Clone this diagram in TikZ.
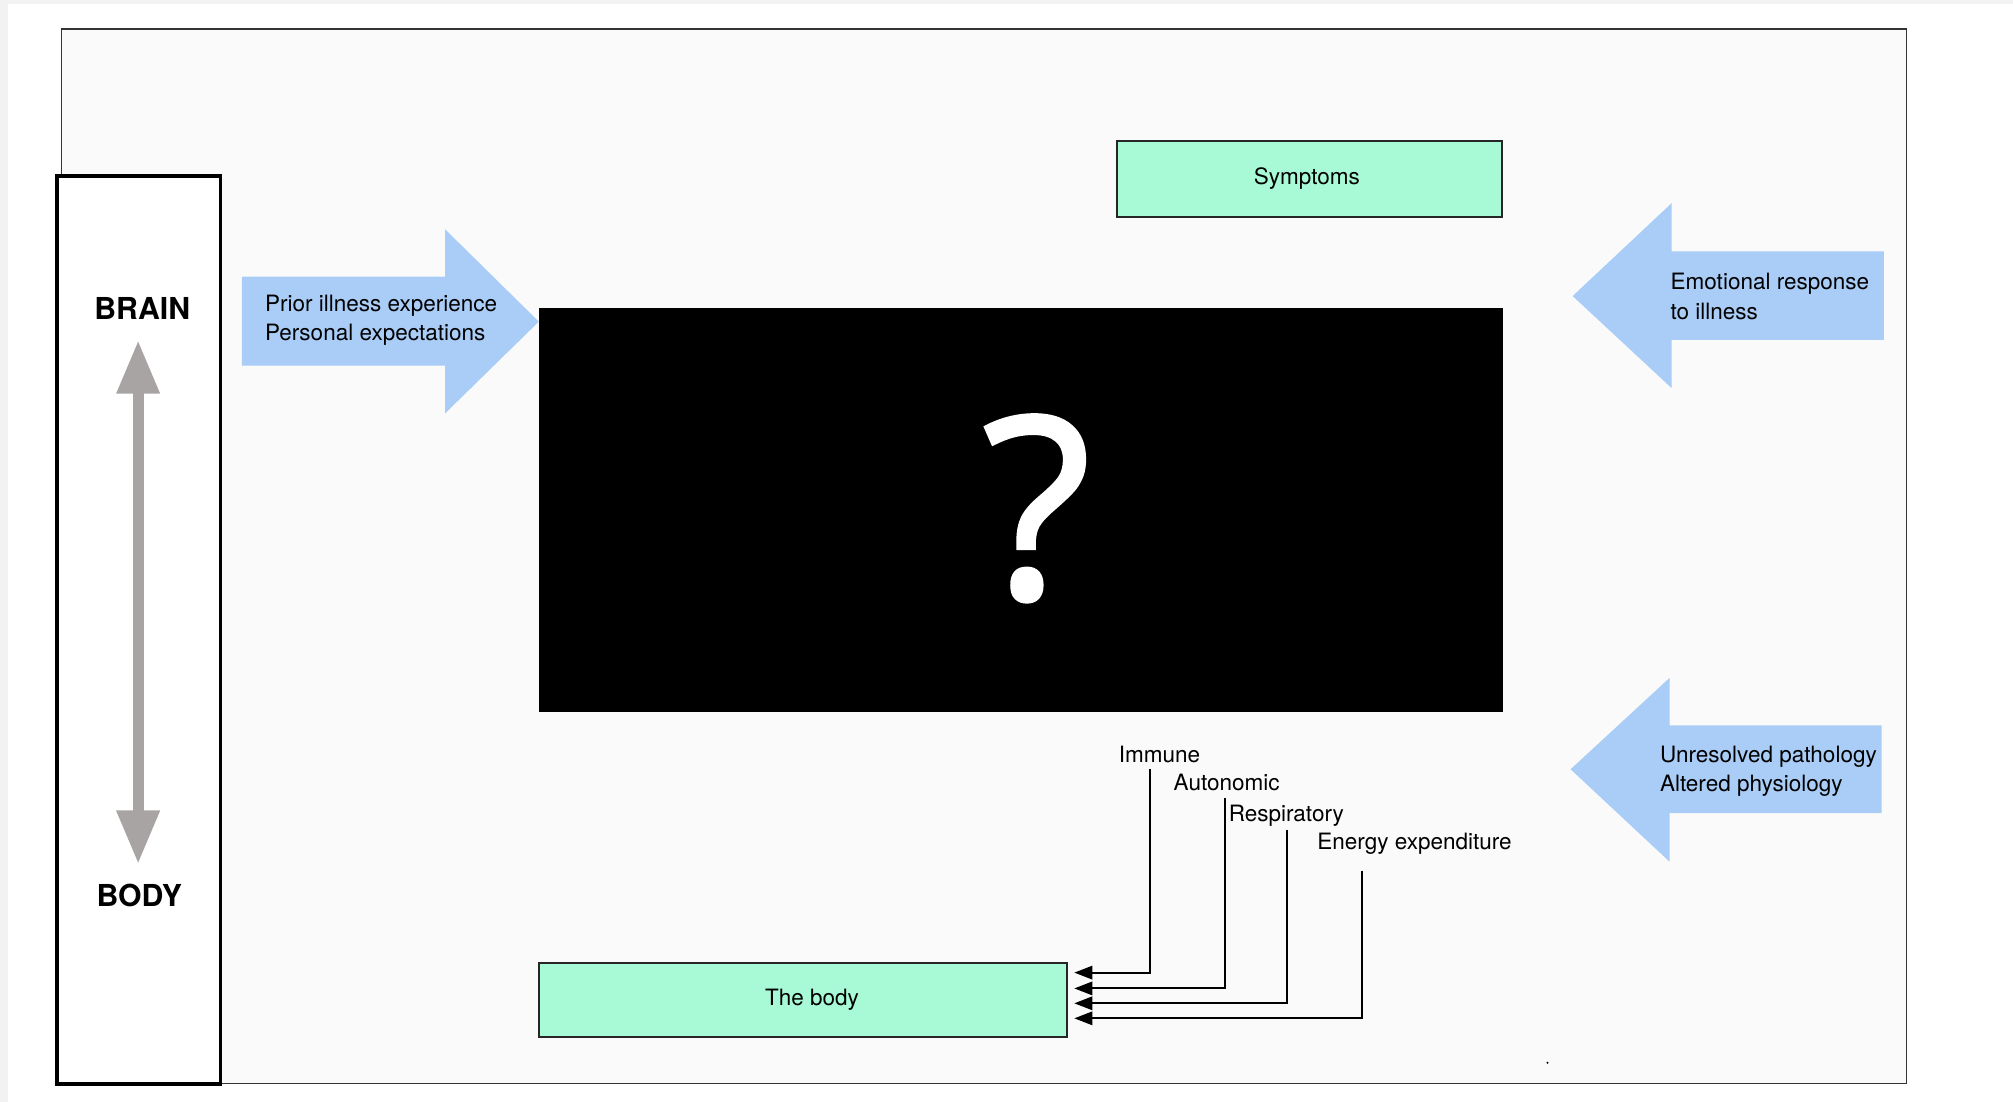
\documentclass[tikz,border=0pt]{standalone}
\usepackage{fontspec}
\setmainfont{TeX Gyre Heros}
\newfontfamily\qfont{Open Sans}[FakeBold=1.4]
\usetikzlibrary{arrows.meta,calc}

\definecolor{pageedge}{HTML}{F2F2F2}
\definecolor{panel}{HTML}{FAFAFA}
\definecolor{mint}{HTML}{A8FAD7}
\definecolor{skyblue}{HTML}{A9CDF7}
\definecolor{axisgray}{HTML}{A8A4A3}

\begin{document}
\begin{tikzpicture}[x=0.012838cm, y=-0.012838cm,
  smalltxt/.style={font=\fontsize{6.4}{8}\selectfont, inner sep=0pt, anchor=base west},
  bigtxt/.style={font=\fontsize{8.6}{10}\selectfont\bfseries, inner sep=0pt, anchor=base},
  mintbox/.style={draw=black!85, line width=0.55pt, fill=mint, inner sep=0pt,
                  font=\fontsize{6.4}{8}\selectfont},
  bluearrow/.style={fill=skyblue},
  conn/.style={line width=0.55pt, -{Triangle[length=0.18cm,width=0.134cm]}}
]
% page and panel
\fill[pageedge] (0,0) rectangle (1568,858);
\fill[white] (6.3,3.1) rectangle (1568,858);
\draw[fill=panel, draw=black!80, line width=0.45pt] (48,22.6) rectangle (1485,843.8);

% brain--body column
\node[draw=black, fill=white, line width=1pt, minimum width=1.633cm, minimum height=9.074cm,
      inner sep=0pt] (column) at (108.2,490.7) {};
\node[bigtxt] (brainlbl) at (110.8,248.5) {BRAIN};
\node[bigtxt] (bodylbl) at (108.5,706.2) {BODY};
\draw[axisgray, line width=0.112cm,
      {Triangle[length=0.535cm,width=0.406cm]}-{Triangle[length=0.535cm,width=0.406cm]}]
  ($(brainlbl.base)+(-3.2,16.5)$) -- ($(bodylbl.base)+(-0.9,-33.2)$);

% central unknown
\node[fill=black, minimum width=9.639cm, minimum height=4.039cm, inner sep=0pt]
  (unknown) at (795.1,397) {};
\node[text=white, font=\qfont\fontsize{72}{80}\selectfont, inner sep=0pt, anchor=base]
  (qmark) at (807.5,466) {?};

% green boxes
\node[mintbox, minimum width=3.850cm, minimum height=0.757cm] (symptoms) at (1020.25,139.3)
  {Symptoms\hspace*{0.06cm}};
\node[mintbox, minimum width=5.285cm, minimum height=0.747cm] (thebody) at (625.55,778.9)
  {\hspace*{0.18cm}The body};

% incoming influences
\fill[bluearrow] (188.5,215.5) -- (346.7,215.5) -- (346.7,178.6) -- (419.7,250.5)
  -- (346.7,322) -- (346.7,284.8) -- (188.5,284.8) -- cycle;
\node[smalltxt] (prior1) at (205.9,242.8) {Prior illness experience};
\node[smalltxt] (prior2) at (205.9,265.4) {Personal expectations};

\fill[bluearrow] (1467.5,195.8) -- (1302,195.8) -- (1302,158.3) -- (1225,230.6)
  -- (1302,302.2) -- (1302,264.7) -- (1467.5,264.7) -- cycle;
\node[smalltxt] (emo1) at (1300.8,225.4) {Emotional response};
\node[smalltxt] (emo2) at (1300.8,248.7) {to illness};

\fill[bluearrow] (1465.7,565.1) -- (1300.5,565.1) -- (1300.5,528) -- (1223.4,599.2)
  -- (1300.5,671.2) -- (1300.5,633.3) -- (1465.7,633.3) -- cycle;
\node[smalltxt] (unres1) at (1292.5,594) {Unresolved pathology};
\node[smalltxt] (unres2) at (1292.5,616.6) {Altered physiology};

% bodily systems feeding the body
\node[smalltxt] (immune) at (871,594) {Immune};
\node[smalltxt] (autonomic) at (913.7,616) {Autonomic};
\node[smalltxt] (respiratory) at (956.6,639.5) {Respiratory};
\node[smalltxt] (energy) at (1025.6,662) {Energy expenditure};

\coordinate (s1) at ($(immune.base west)+(24.8,5)$);
\coordinate (s2) at ($(autonomic.base west)+(40.7,5.7)$);
\coordinate (s3) at ($(respiratory.base west)+(46.1,7)$);
\coordinate (s4) at ($(energy.base west)+(35.5,16.2)$);
\coordinate (t1) at ($(thebody.east)+(4.6,-21.3)$);
\coordinate (t2) at ($(thebody.east)+(4.6,-9)$);
\coordinate (t3) at ($(thebody.east)+(4.6,2.6)$);
\coordinate (t4) at ($(thebody.east)+(4.6,14.3)$);
\draw[conn] (s1) |- (t1);
\draw[conn] (s2) |- (t2);
\draw[conn] (s3) |- (t3);
\draw[conn] (s4) |- (t4);

\fill (1205.4,827.8) circle[radius=0.012cm];
\end{tikzpicture}
\end{document}
